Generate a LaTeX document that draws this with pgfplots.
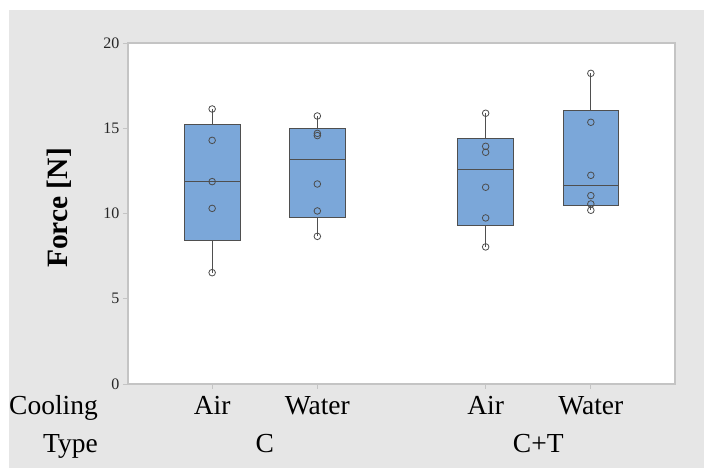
\documentclass[border=0pt]{standalone}
\usepackage{fontspec}
\setmainfont{Liberation Serif}
\usepackage{pgfplots}
\pgfplotsset{compat=1.18}
\usepgfplotslibrary{statistics}
\definecolor{bgray}{HTML}{E6E6E6}
\definecolor{boxblue}{HTML}{7BA7D9}
\definecolor{boxedge}{HTML}{4F4F4F}
\definecolor{frame}{HTML}{C4C4C4}
\begin{document}
\begin{tikzpicture}
\fill[white] (-128pt,-84pt) rectangle (576pt,384pt);
\fill[bgray] (-119pt,-84pt) rectangle (576pt,374pt);
\begin{axis}[
  at={(0pt,0pt)}, anchor=south west,
  width=547pt, height=341pt, scale only axis,
  xmin=-0.8, xmax=4.4, ymin=0, ymax=20,
  axis background/.style={fill=white},
  axis line style={draw=frame, line width=1.3pt},
  xtick={0,1,2.6,3.6}, xticklabels={},
  ytick={0,5,10,15,20},
  tick pos=left, tick align=outside,
  major tick length=5pt,
  tick style={draw=frame, line width=0.9pt},
  yticklabel style={font=\fontsize{16}{18}\selectfont, text=black!85},
  /pgf/number format/assume math mode=true,
  boxplot/draw direction=y,
  clip=false,
]
\addplot[boxplot prepared={draw position=0, lower whisker=6.53, lower quartile=8.415, median=11.87, upper quartile=15.21, upper whisker=16.13, box extend=0.53, whisker extend=0}, fill=boxblue, draw=boxedge, line width=0.9pt] coordinates {};
\addplot[boxplot prepared={draw position=1, lower whisker=8.66, lower quartile=9.78, median=13.15, upper quartile=14.96, upper whisker=15.72, box extend=0.53, whisker extend=0}, fill=boxblue, draw=boxedge, line width=0.9pt] coordinates {};
\addplot[boxplot prepared={draw position=2.6, lower whisker=8.04, lower quartile=9.31, median=12.57, upper quartile=14.43, upper whisker=15.88, box extend=0.53, whisker extend=0}, fill=boxblue, draw=boxedge, line width=0.9pt] coordinates {};
\addplot[boxplot prepared={draw position=3.6, lower whisker=10.19, lower quartile=10.47, median=11.65, upper quartile=16.07, upper whisker=18.22, box extend=0.53, whisker extend=0}, fill=boxblue, draw=boxedge, line width=0.9pt] coordinates {};
\addplot[only marks, mark=o, mark size=3.3pt, mark options={draw=black!70, line width=0.8pt}] coordinates {
(0,6.53) (0,10.3) (0,11.87) (0,14.29) (0,16.13)
(1,8.66) (1,10.15) (1,11.73) (1,14.57) (1,14.70) (1,15.72)
(2.6,8.04) (2.6,9.74) (2.6,11.54) (2.6,13.59) (2.6,13.94) (2.6,15.88)
(3.6,10.19) (3.6,10.56) (3.6,11.05) (3.6,12.24) (3.6,15.35) (3.6,18.22)
};
\node[anchor=base, font=\fontsize{27.5}{30}\selectfont] at (axis cs:0,0) [yshift=-31pt] {Air};
\node[anchor=base, font=\fontsize{27.5}{30}\selectfont] at (axis cs:1,0) [yshift=-31pt] {Water};
\node[anchor=base, font=\fontsize{27.5}{30}\selectfont] at (axis cs:2.6,0) [yshift=-31pt] {Air};
\node[anchor=base, font=\fontsize{27.5}{30}\selectfont] at (axis cs:3.6,0) [yshift=-31pt] {Water};
\node[anchor=base, font=\fontsize{27.5}{30}\selectfont] at (axis cs:0.5,0) [yshift=-69pt] {C};
\node[anchor=base, font=\fontsize{27.5}{30}\selectfont] at (axis cs:3.1,0) [yshift=-69pt] {C+T};
\end{axis}
\node[anchor=base east, font=\fontsize{27.5}{30}\selectfont, inner sep=0pt] at (-30pt,-31pt) {Cooling};
\node[anchor=base east, font=\fontsize{27.5}{30}\selectfont, inner sep=0pt] at (-30pt,-69pt) {Type};
\node[anchor=base, rotate=90, font=\fontsize{29.5}{32}\selectfont\bfseries, inner sep=0pt] at (-60pt,176pt) {Force [N]};
\end{tikzpicture}
\end{document}
